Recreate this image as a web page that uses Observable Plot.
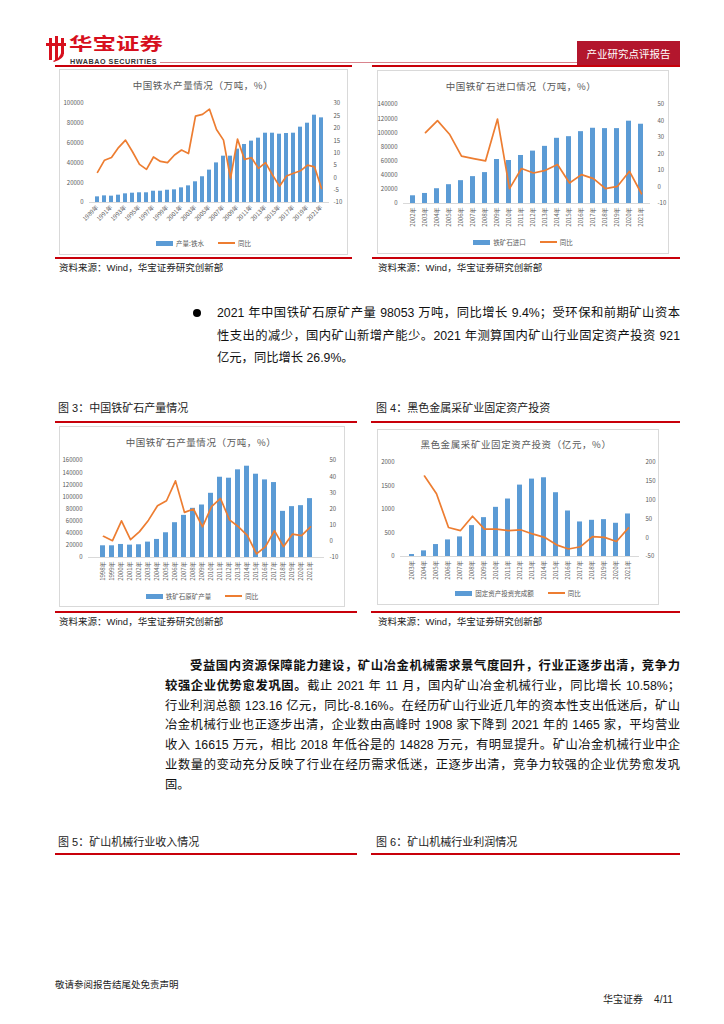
<!DOCTYPE html>
<html><head><meta charset="utf-8">
<script src="https://cdn.jsdelivr.net/npm/d3@7"></script>
<script src="https://cdn.jsdelivr.net/npm/@observablehq/plot@0.6"></script>
<style>
body{margin:0;background:#fff;}
#page{position:relative;width:724px;height:1024px;overflow:hidden;font-family:"Liberation Sans","Noto Sans CJK SC",sans-serif;color:#111;}
.redline{position:absolute;height:2px;background:#c8000a;}
.box{position:absolute;border:1px solid #d9d9d9;box-sizing:border-box;background:#fff;}
.ctitle{position:absolute;font-size:9.5px;color:#595959;transform:translate(-50%,-50%);white-space:nowrap;font-family:"Noto Sans CJK SC",sans-serif;letter-spacing:0.6px;}
.src{position:absolute;font-size:9.5px;color:#222;white-space:nowrap;line-height:14px;}
.figt{position:absolute;font-size:11px;color:#222;white-space:nowrap;line-height:16px;}
.tl{position:absolute;font-size:12.3px;line-height:18px;text-align:justify;text-align-last:justify;}
.tl.last{text-align:left;text-align-last:left;}
.legend{position:absolute;display:flex;justify-content:center;align-items:center;gap:14px;font-size:6.5px;color:#595959;font-family:"Noto Sans CJK SC",sans-serif;}
.legend span.it{display:flex;align-items:center;gap:3px;}
.sw-bar{display:inline-block;width:17px;height:5px;background:#5b9bd5;}
.sw-line{display:inline-block;width:17px;height:2px;background:#ed7d31;}
</style></head>
<body><div id="page"></div>
<script>
// ---------- data ----------
const years1 = d3.range(1989, 2022);
const output1 = [5700, 6700, 6400, 7400, 8750, 9400, 9800, 9800, 11400, 11400, 12400, 12800, 14800, 16800, 20900, 26000, 32700, 40000, 46800, 46800, 53900, 58600, 62000, 65000, 70000, 70000, 69000, 69700, 70000, 76100, 80100, 88200, 85500];
const yoy1 = [2.2, 7.1, 8.2, 12.2, 15.2, 10.5, 5.4, 3.4, 8.4, 6.6, 6.1, 9.2, 11.2, 9.8, 24.9, 25.6, 27.7, 19.5, 15.2, -0.3, 15.6, 7.4, 8.1, 3.8, 6.1, 1.1, -3.4, 0.7, 1.8, 2.8, 5.1, 4.4, -4.3];
const leftTicks1 = [0, 20000, 40000, 60000, 80000, 100000];
const rightTicks1 = [-10, -5, 0, 5, 10, 15, 20, 25, 30];

const years2 = d3.range(2002, 2022);
const import2 = [10900, 14200, 20900, 26600, 32300, 38000, 43700, 62200, 60800, 67900, 74100, 80800, 92200, 94500, 101600, 106400, 105900, 105900, 116400, 112100];
const yoy2 = [null, 32.9, 40.2, 32.0, 18.7, 17.2, 15.8, 41.2, -1.0, 11.2, 8.5, 10.1, 13.6, 2.4, 7.5, 5.1, -1.0, 0.4, 9.5, -4.1];
const leftTicks2 = [0, 20000, 40000, 60000, 80000, 100000, 120000, 140000];
const rightTicks2 = [-10, 0, 10, 20, 30, 40, 50];

const years3 = d3.range(1998, 2022);
const ore3 = [19300, 19300, 21500, 20400, 21000, 25400, 29800, 40800, 57400, 69500, 81100, 86600, 105900, 132400, 130800, 144600, 150600, 137400, 128000, 123600, 76100, 83900, 85500, 97100];
const yoy3 = [3.1, 0.4, 12.7, 1.0, 6.0, 13.1, 22.0, 25.1, 37.4, 17.9, 20.0, 9.0, 21.4, 26.5, 13.3, 9.0, 3.5, -7.8, -3.3, 6.6, -3.3, 4.5, 3.5, 9.0];
const leftTicks3 = [0, 20000, 40000, 60000, 80000, 100000, 120000, 140000, 160000];
const rightTicks3 = [-10, 0, 10, 20, 30, 40, 50];

const years4 = d3.range(2003, 2022);
const invest4 = [42, 120, 254, 353, 417, 657, 827, 1046, 1223, 1519, 1647, 1675, 1357, 968, 735, 770, 784, 707, 905];
const yoy4 = [null, 164, 117, 27, 19, 57, 23, 23, 19, 21, 10, 1, -19, -30, -24, 3, 1, -10, 26];
const leftTicks4 = [0, 500, 1000, 1500, 2000];
const rightTicks4 = [-50, 0, 50, 100, 150, 200];

// ---------- helpers ----------
const page = document.getElementById("page");
function el(tag, cls, css, html) {
  const e = document.createElement(tag);
  if (cls) e.className = cls;
  if (css) e.style.cssText = css;
  if (html != null) e.innerHTML = html;
  page.appendChild(e);
  return e;
}
const axisStyle = {fontFamily: '"Noto Sans CJK SC","Liberation Sans",sans-serif', fontSize: "6px", color: "#595959", background: "transparent", overflow: "visible"};

function dual(c) {
  const wrap = el("div", null, `position:absolute;left:${c.left}px;top:${c.top}px;width:${c.width}px;height:${c.height}px;`);
  const barData = c.years.map((y, i) => ({year: y, value: c.bars[i]}));
  const lineData = c.years.map((y, i) => ({year: y, value: c.growth[i]})).filter(d => d.value != null);
  const common = {width: c.width, height: c.height, marginTop: c.mt, marginBottom: c.mb, marginLeft: c.ml, marginRight: c.mr, style: axisStyle};
  const p1 = Plot.plot({
    ...common,
    x: {type: "band", domain: c.years, paddingInner: c.pIn, paddingOuter: c.pOut, label: null, tickSize: 0, tickPadding: 4, tickRotate: c.rotate, tickFormat: c.xfmt},
    y: {domain: c.lDomain, ticks: c.lTicks, label: null, tickSize: 0, tickPadding: c.lPad, tickFormat: d => String(d)},
    marks: [
      Plot.ruleY([c.lDomain[0]], {stroke: "#d9d9d9"}),
      Plot.barY(barData, {x: "year", y: "value", fill: "#5b9bd5"})
    ]
  });
  const p2 = Plot.plot({
    ...common,
    x: {type: "point", domain: c.years, padding: c.pOut + (1 - c.pIn) / 2, axis: null},
    y: {domain: c.rDomain, ticks: c.rTicks, axis: "right", label: null, tickSize: 0, tickPadding: c.rPad, tickFormat: d => String(d)},
    marks: [
      Plot.line(lineData, {x: "year", y: "value", stroke: "#ed7d31", strokeWidth: 1.7, strokeLinejoin: "round"})
    ]
  });
  for (const p of [p1, p2]) { p.style.position = "absolute"; p.style.left = "0"; p.style.top = "0"; wrap.appendChild(p); }
}
function legend(left, top, width, barLabel) {
  el("div", "legend", `left:${left}px;top:${top}px;width:${width}px;height:10px;`,
    `<span class="it"><span class="sw-bar"></span>${barLabel}</span><span class="it"><span class="sw-line"></span>同比</span>`);
}

// ---------- header ----------
el("div", null, "position:absolute;left:44px;top:34px;width:24px;height:28px;",
  `<svg width="24" height="28" viewBox="0 0 24 28"><g fill="#d7101e"><rect x="2" y="9" width="20" height="3"/><rect x="5" y="4" width="3" height="22"/><rect x="11" y="2" width="3" height="24"/><rect x="17" y="4" width="3" height="16"/><path d="M17 19 Q 16 24 9 27 L 10 28 Q 20 25 20 19 Z"/></g></svg>`);
el("div", null, "position:absolute;left:69px;top:34px;height:18px;font-size:17px;font-weight:bold;color:#d7101e;letter-spacing:0px;font-family:'Noto Sans CJK SC',sans-serif;line-height:18px;transform:scaleX(1.38);transform-origin:0 0;white-space:nowrap;", "华宝证券");
el("div", null, "position:absolute;left:70px;top:57.5px;font-size:7.2px;font-weight:bold;color:#333;letter-spacing:0.55px;line-height:8px;font-family:'Liberation Sans',sans-serif;white-space:nowrap;", "HWABAO SECURITIES");
el("div", null, "position:absolute;left:160px;top:62px;width:418px;height:1px;background:#d9848d;");
el("div", null, "position:absolute;left:577px;top:41px;width:103px;height:25px;background:#b3162d;color:#fff;font-size:10.5px;line-height:25px;text-align:center;font-family:'Noto Sans CJK SC',sans-serif;", "产业研究点评报告");

// ---------- figures 1 & 2 ----------
el("div", "redline", "left:55px;top:65px;width:297px;");
el("div", "redline", "left:372px;top:65px;width:308px;");
el("div", "box", "left:59px;top:69px;width:289px;height:186px;");
el("div", "box", "left:377px;top:70px;width:292px;height:184px;");
el("div", "ctitle", "left:203px;top:85px;", "中国铁水产量情况（万吨，%）");
el("div", "ctitle", "left:521px;top:86px;", "中国铁矿石进口情况（万吨，%）");
dual({left: 59, top: 95, width: 288, height: 140, mt: 8, mb: 33, ml: 30, mr: 18,
  years: years1, bars: output1, growth: yoy1, lDomain: [0, 100000], lTicks: leftTicks1, rDomain: [-10, 30], rTicks: rightTicks1,
  pIn: 0.4, pOut: 0.3, rotate: -45, xfmt: d => ((d - 1989) % 2 === 0 ? d + "年" : ""), lPad: 6, rPad: 4});
legend(59, 238, 289, "产量:铁水");
dual({left: 377, top: 95, width: 291, height: 140, mt: 9, mb: 32, ml: 26, mr: 18,
  years: years2, bars: import2, growth: yoy2, lDomain: [0, 140000], lTicks: leftTicks2, rDomain: [-10, 50], rTicks: rightTicks2,
  pIn: 0.6, pOut: 0.3, rotate: -90, xfmt: d => d + "年", lPad: 6, rPad: 7});
legend(377, 237, 292, "铁矿石进口");
el("div", "redline", "left:55px;top:257px;width:297px;");
el("div", "redline", "left:372px;top:257px;width:308px;");
el("div", "src", "left:59px;top:261px;", "资料来源：Wind，华宝证券研究创新部");
el("div", "src", "left:378px;top:261px;", "资料来源：Wind，华宝证券研究创新部");

// ---------- bullet paragraph ----------
el("div", null, "position:absolute;left:193px;top:309px;width:8px;height:8px;border-radius:50%;background:#000;");
const bullet = [
  "2021 年中国铁矿石原矿产量 98053 万吨，同比增长 9.4%；受环保和前期矿山资本",
  "性支出的减少，国内矿山新增产能少。2021 年测算国内矿山行业固定资产投资 921",
  "亿元，同比增长 26.9%。"
];
bullet.forEach((t, i) => el("div", "tl" + (i === bullet.length - 1 ? " last" : ""), `left:217px;top:${304 + i * 22.5}px;width:463px;`, t));

// ---------- figures 3 & 4 ----------
el("div", "figt", "left:58px;top:400px;", "图 3：中国铁矿石产量情况");
el("div", "figt", "left:376px;top:400px;", "图 4：黑色金属采矿业固定资产投资");
el("div", "redline", "left:55px;top:421px;width:302px;");
el("div", "redline", "left:371px;top:421px;width:309px;");
el("div", "box", "left:59px;top:426px;width:286px;height:181px;");
el("div", "box", "left:377px;top:429px;width:282px;height:176px;");
el("div", "ctitle", "left:201px;top:442px;", "中国铁矿石产量情况（万吨，%）");
el("div", "ctitle", "left:516px;top:444px;", "黑色金属采矿业固定资产投资（亿元，%）");
dual({left: 59, top: 450, width: 285, height: 140, mt: 10, mb: 33, ml: 29, mr: 20,
  years: years3, bars: ore3, growth: yoy3, lDomain: [0, 160000], lTicks: leftTicks3, rDomain: [-10, 50], rTicks: rightTicks3,
  pIn: 0.5, pOut: 0.25, rotate: -90, xfmt: d => d + "年", lPad: 6, rPad: 5});
legend(59, 591, 286, "铁矿石原矿产量");
dual({left: 377, top: 452, width: 281, height: 140, mt: 10, mb: 36, ml: 23, mr: 19,
  years: years4, bars: invest4, growth: yoy4, lDomain: [0, 2000], lTicks: leftTicks4, rDomain: [-50, 200], rTicks: rightTicks4,
  pIn: 0.6, pOut: 0.3, rotate: -90, xfmt: d => d + "年", lPad: 6, rPad: 6});
legend(377, 588, 282, "固定资产投资完成额");
el("div", "redline", "left:55px;top:611px;width:302px;");
el("div", "redline", "left:371px;top:611px;width:309px;");
el("div", "src", "left:59px;top:615px;", "资料来源：Wind，华宝证券研究创新部");
el("div", "src", "left:378px;top:615px;", "资料来源：Wind，华宝证券研究创新部");

// ---------- paragraph 2 ----------
const para = [
  "<b>受益国内资源保障能力建设，矿山冶金机械需求景气度回升，行业正逐步出清，竞争力</b>",
  "<b>较强企业优势愈发巩固。</b>截止 2021 年 11 月，国内矿山冶金机械行业，同比增长 10.58%；",
  "行业利润总额 123.16 亿元，同比-8.16%。在经历矿山行业近几年的资本性支出低迷后，矿山",
  "冶金机械行业也正逐步出清，企业数由高峰时 1908 家下降到 2021 年的 1465 家，平均营业",
  "收入 16615 万元，相比 2018 年低谷是的 14828 万元，有明显提升。矿山冶金机械行业中企",
  "业数量的变动充分反映了行业在经历需求低迷，正逐步出清，竞争力较强的企业优势愈发巩",
  "固。"
];
para.forEach((t, i) => {
  const left = i === 0 ? 190 : 165;
  el("div", "tl" + (i === para.length - 1 ? " last" : ""), `left:${left}px;top:${657 + i * 19.8}px;width:${680 - left}px;`, t);
});

// ---------- figures 5 & 6 ----------
el("div", "figt", "left:58px;top:834px;", "图 5：矿山机械行业收入情况");
el("div", "figt", "left:376px;top:834px;", "图 6：矿山机械行业利润情况");
el("div", "redline", "left:55px;top:853px;width:302px;");
el("div", "redline", "left:371px;top:853px;width:309px;");

// ---------- footer ----------
el("div", null, "position:absolute;left:55px;top:978px;font-size:9.5px;color:#222;line-height:14px;", "敬请参阅报告结尾处免责声明");
el("div", null, "position:absolute;left:603px;top:993px;font-size:10px;color:#222;line-height:14px;white-space:nowrap;", "华宝证券&nbsp;&nbsp;&nbsp;&nbsp;4/11");
</script>
</body></html>
